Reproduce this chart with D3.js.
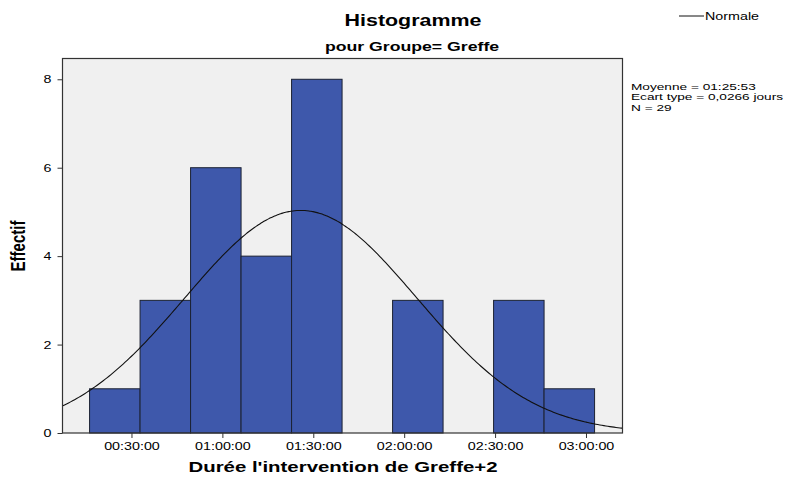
<!DOCTYPE html>
<html>
<head>
<meta charset="utf-8">
<script src="https://cdn.jsdelivr.net/npm/d3@7"></script>
<style>
  body { margin: 0; background: #fff; }
  svg text { font-family: "Liberation Sans", Arial, sans-serif; fill: #000; }
</style>
</head>
<body>
<svg id="svg" width="795" height="477"></svg>
<script>
// bins of the histogram, in seconds (width 1000 s)
var binStarts = [970, 1970, 2970, 3970, 4970, 5970, 6970, 7970, 8970, 9970];
var binWidth = 1000;
var counts = [1, 3, 6, 4, 8, 0, 3, 0, 3, 1];
var xTicks = [1800, 3600, 5400, 7200, 9000, 10800];
var xTickLabels = ["00:30:00", "01:00:00", "01:30:00", "02:00:00", "02:30:00", "03:00:00"];
var yTicks = [0, 2, 4, 6, 8];
var mean = 5153;          // 01:25:53
var sd = 0.0266 * 86400;  // jours -> secondes
var n = 29;
var statLines = ["Moyenne = 01:25:53", "Ecart type = 0,0266 jours", "N = 29"];

const plot = { left: 62.5, top: 58.5, right: 622.5, bottom: 433 };
const sx = 1.3;   // the text of the original is drawn wider

var svg = d3.select('#svg');

const x = d3.scaleLinear()
  .domain([434, 11523])
  .range([plot.left, plot.right]);

const y = d3.scaleLinear()
  .domain([0, 8.47])
  .range([plot.bottom, plot.top]);

// plot background
svg.append('rect')
  .attr('x', plot.left)
  .attr('y', plot.top)
  .attr('width', plot.right - plot.left)
  .attr('height', plot.bottom - plot.top)
  .style('fill', '#f0f0f0');

svg.append('clipPath').attr('id', 'clip')
  .append('rect')
  .attr('x', plot.left)
  .attr('y', plot.top)
  .attr('width', plot.right - plot.left)
  .attr('height', plot.bottom - plot.top);

// bars
svg.append('g').selectAll('rect')
  .data(counts.map((c, i) => ({ x0: binStarts[i], c: c })).filter(d => d.c > 0))
  .enter()
  .append('rect')
  .attr('x', d => x(d.x0))
  .attr('y', d => y(d.c))
  .attr('width', d => x(d.x0 + binWidth) - x(d.x0))
  .attr('height', d => y(0) - y(d.c))
  .style('fill', '#3e58ab')
  .style('stroke', '#1c2233')
  .style('stroke-width', 1);

// normal curve
var curvePts = d3.range(434, 11524, 40).map(function(t) {
  var z = (t - mean) / sd;
  return [t, n * binWidth * Math.exp(-0.5 * z * z) / (sd * Math.sqrt(2 * Math.PI))];
});
svg.append('path')
  .datum(curvePts)
  .attr('clip-path', 'url(#clip)')
  .attr('d', d3.line().x(d => x(d[0])).y(d => y(d[1])).curve(d3.curveBasis))
  .style('fill', 'none')
  .style('stroke', '#111')
  .style('stroke-width', 1.1);

// frame
svg.append('rect')
  .attr('x', plot.left)
  .attr('y', plot.top)
  .attr('width', plot.right - plot.left)
  .attr('height', plot.bottom - plot.top)
  .style('fill', 'none')
  .style('stroke', '#333')
  .style('stroke-width', 1.2);

// x axis
const xAxis = svg.append('g')
  .attr('transform', 'translate(0,' + plot.bottom + ')')
  .call(d3.axisBottom(x).tickValues(xTicks).tickSize(5).tickPadding(4)
    .tickFormat((d, i) => xTickLabels[i]));
xAxis.select('.domain').remove();
xAxis.selectAll('line').style('stroke', '#333');
xAxis.selectAll('text')
  .attr('transform', 'scale(' + sx + ',1)')
  .style('font-size', '11px');

// y axis
const yAxis = svg.append('g')
  .attr('transform', 'translate(' + plot.left + ',0)')
  .call(d3.axisLeft(y).tickValues(yTicks).tickSize(5).tickPadding(3.5));
yAxis.select('.domain').remove();
yAxis.selectAll('line').style('stroke', '#333');
yAxis.selectAll('text')
  .attr('transform', 'scale(' + sx + ',1)')
  .style('font-size', '11px');

// titles
function label(px, py, size, txt, k) {
  return svg.append('text')
    .attr('transform', 'translate(' + px + ',' + py + ') scale(' + k + ',1)')
    .attr('text-anchor', 'middle')
    .style('font-size', size + 'px')
    .style('font-weight', 'bold')
    .text(txt);
}
label(413, 26, 16, 'Histogramme', 1.34);
label(412, 51, 13, 'pour Groupe= Greffe', 1.36);
label(343, 472, 15, "Durée l'intervention de Greffe+2", 1.36);

svg.append('text')
  .attr('transform', 'translate(25,246) rotate(-90) scale(1,1.3)')
  .attr('text-anchor', 'middle')
  .style('font-size', '15px')
  .style('font-weight', 'bold')
  .text('Effectif');

// legend
svg.append('line')
  .attr('x1', 679).attr('x2', 704)
  .attr('y1', 16).attr('y2', 16)
  .style('stroke', '#111')
  .style('stroke-width', 1);
svg.append('text')
  .attr('transform', 'translate(705,20) scale(' + sx + ',1)')
  .style('font-size', '11px')
  .text('Normale');

// stats
svg.append('g').selectAll('text')
  .data(statLines)
  .enter()
  .append('text')
  .attr('transform', (d, i) => 'translate(631,' + (89.5 + i * 10.5) + ') scale(1.5,1)')
  .style('font-size', '9.1px')
  .text(d => d);
</script>
</body>
</html>
